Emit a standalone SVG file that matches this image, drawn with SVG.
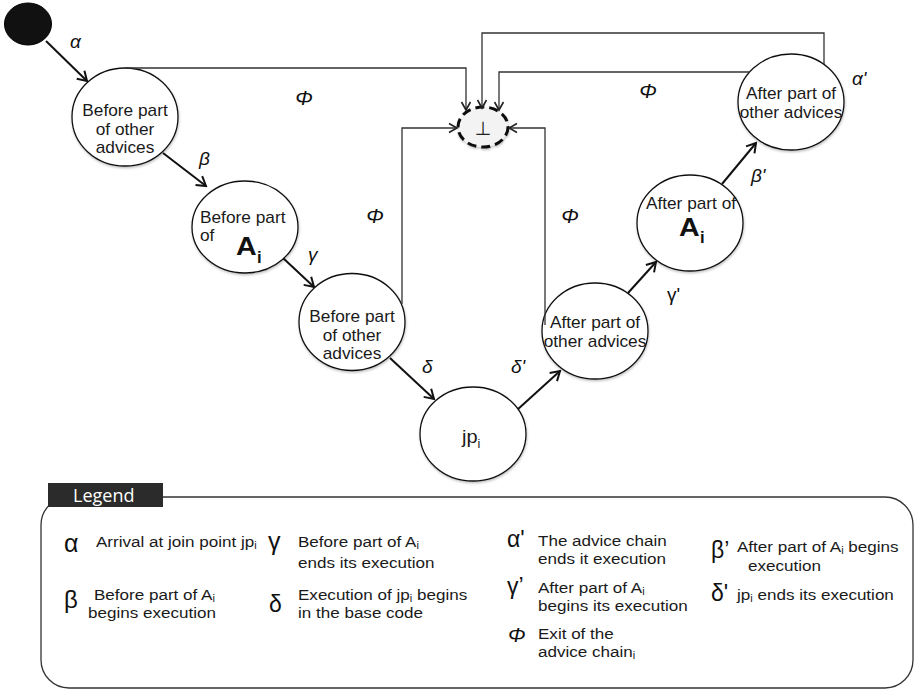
<svg xmlns="http://www.w3.org/2000/svg" width="919" height="690" viewBox="0 0 919 690">
<defs>
  <style>
    .node { fill: #ffffff; stroke: #111; stroke-width: 1.3; filter: url(#sh); }
    .nt { font-family: "Liberation Sans", Arial, sans-serif; font-size: 16px; fill: #1a1a1a; }
    .jpt { font-family: "Liberation Sans", Arial, sans-serif; font-size: 19px; fill: #1a1a1a; }
    .big { font-family: "Liberation Sans", Arial, sans-serif; font-weight: bold; fill: #111; }
    .lbl { font-family: "Liberation Sans", Arial, sans-serif; font-size: 19px; font-style: italic; fill: #111; }
    .phi { font-family: "Liberation Sans", Arial, sans-serif; font-size: 21px; font-style: italic; fill: #111; }
    .lblu { font-family: "Liberation Sans", Arial, sans-serif; font-size: 19px; fill: #111; }
    .lt { font-family: "Liberation Sans", Arial, sans-serif; font-size: 15.5px; fill: #1a1a1a; }
    .sym { font-family: "Liberation Sans", Arial, sans-serif; fill: #111; }
    .sub { font-size: 10px; }
    .arr { stroke: #111; stroke-width: 2; fill: none; marker-end: url(#ah); }
    .con { stroke: #333; stroke-width: 1.3; fill: none; marker-end: url(#ahs); }
  </style>
  <filter id="sh" x="-20%" y="-20%" width="140%" height="150%">
    <feDropShadow dx="0.5" dy="1.5" stdDeviation="1" flood-color="#000" flood-opacity="0.25"/>
  </filter>
  <marker id="ah" viewBox="-11 -7 13 14" refX="0" refY="0" markerWidth="13" markerHeight="14" markerUnits="userSpaceOnUse" orient="auto">
    <path d="M-9,-5.5 L0,0 L-9,5.5" fill="none" stroke="#111" stroke-width="2"/>
  </marker>
  <marker id="ahs" viewBox="-10 -6 12 12" refX="0" refY="0" markerWidth="12" markerHeight="12" markerUnits="userSpaceOnUse" orient="auto">
    <path d="M-8,-4.5 L0,0 L-8,4.5" fill="none" stroke="#222" stroke-width="1.6"/>
  </marker>
</defs>
<rect width="919" height="690" fill="#ffffff"/>

<!-- arrows (transitions) -->
<g id="transitions">
  <path class="arr" d="M46,41 L87,81"/>
  <path class="arr" d="M163,153 L206,186"/>
  <path class="arr" d="M283,258 L314,287"/>
  <path class="arr" d="M390,358 L434,399"/>
  <path class="arr" d="M517,410 L560,371"/>
  <path class="arr" d="M628,293 L656,262"/>
  <path class="arr" d="M722,184 L756,143"/>
</g>

<g id="start"><ellipse cx="28" cy="24" rx="23.5" ry="21" fill="#111" stroke="#000"/></g>

<g id="before-other-1">
  <ellipse class="node" cx="125" cy="117" rx="53" ry="49"/>
  <text class="nt" text-anchor="middle" transform="translate(125,116) scale(1.08,1)">Before part</text>
  <text class="nt" text-anchor="middle" transform="translate(125,134.5) scale(1.08,1)">of other</text>
  <text class="nt" text-anchor="middle" transform="translate(125,153) scale(1.08,1)">advices</text>
</g>

<g id="before-Ai">
  <ellipse class="node" cx="245" cy="227" rx="53" ry="46"/>
  <text class="nt" transform="translate(200,223) scale(1.08,1)">Before part</text>
  <text class="nt" transform="translate(200,241) scale(1.08,1)">of</text>
  <text class="big" font-size="26" transform="translate(236,255) scale(1.1,1)">A</text>
  <text class="big" font-size="16" transform="translate(257,263) scale(1.05,1)">i</text>
</g>

<g id="before-other-2">
  <ellipse class="node" cx="352" cy="322" rx="53" ry="48.5"/>
  <text class="nt" text-anchor="middle" transform="translate(352,322) scale(1.08,1)">Before part</text>
  <text class="nt" text-anchor="middle" transform="translate(352,340.5) scale(1.08,1)">of other</text>
  <text class="nt" text-anchor="middle" transform="translate(352,359) scale(1.08,1)">advices</text>
</g>

<g id="jp">
  <ellipse class="node" cx="473" cy="434" rx="53" ry="47"/>
  <text class="jpt" transform="translate(462,443) scale(1.05,1)">jp<tspan font-size="12" dy="5">i</tspan></text>
</g>

<g id="after-other-1">
  <ellipse class="node" cx="595" cy="331" rx="53" ry="48"/>
  <text class="nt" text-anchor="middle" transform="translate(595,328) scale(1.08,1)">After part of</text>
  <text class="nt" text-anchor="middle" transform="translate(595,347) scale(1.08,1)">other advices</text>
</g>

<g id="after-Ai">
  <ellipse class="node" cx="690" cy="223" rx="53" ry="48"/>
  <text class="nt" text-anchor="middle" transform="translate(691,209) scale(1.08,1)">After part of</text>
  <text class="big" font-size="26" transform="translate(679,236) scale(1.1,1)">A</text>
  <text class="big" font-size="16" transform="translate(700,243) scale(1.05,1)">i</text>
</g>

<g id="after-other-2">
  <ellipse class="node" cx="791" cy="102" rx="53" ry="48"/>
  <text class="nt" text-anchor="middle" transform="translate(791,99) scale(1.08,1)">After part of</text>
  <text class="nt" text-anchor="middle" transform="translate(791,117.5) scale(1.08,1)">other advices</text>
</g>

<g id="exit">
  <ellipse cx="483" cy="127" rx="25" ry="20" fill="#f3f3f3" stroke="#111" stroke-width="3" stroke-dasharray="9 5" filter="url(#sh)"/>
  <text x="483" y="135" text-anchor="middle" font-family="'DejaVu Sans', 'Noto Sans', sans-serif" font-size="19" fill="#222">⊥</text>
</g>

<!-- exit connectors -->
<g id="connectors">
  <path class="con" d="M125,68 H466 V110"/>
  <path class="con" d="M824,64 V33 H482 V108"/>
  <path class="con" d="M750,72 H499 V110"/>
  <path class="con" d="M402,304 V128 H457"/>
  <path class="con" d="M545,325 V128 H509"/>
</g>

<!-- labels -->
<g id="labels">
  <text class="lbl" x="70" y="48">α</text>
  <text class="lbl" x="199" y="165">β</text>
  <text class="lbl" x="308" y="261">γ</text>
  <text class="lbl" x="422" y="373">δ</text>
  <text class="lbl" x="511" y="373">δ'</text>
  <text class="lblu" x="667" y="301">γ'</text>
  <text class="lbl" x="751" y="182">β'</text>
  <text class="lbl" x="852" y="85">α'</text>
  <text class="phi" x="304" y="105" text-anchor="middle">Φ</text>
  <text class="phi" x="375" y="223" text-anchor="middle">Φ</text>
  <text class="phi" x="570" y="223" text-anchor="middle">Φ</text>
  <text class="phi" x="648" y="98" text-anchor="middle">Φ</text>
</g>

<!-- legend -->
<g id="legend">
  <rect x="41" y="497" width="872" height="191" rx="28" ry="28" fill="#fff" stroke="#333" stroke-width="1.3"/>
  <rect x="48" y="483" width="115" height="24" fill="#2b2b2b"/>
  <text x="73" y="502" font-family="'Open Sans', sans-serif" font-size="18" fill="#fff">Legend</text>

  <text class="sym" font-size="25" x="64" y="552">α</text>
  <text class="lt" transform="translate(96,547) scale(1.1,1)">Arrival at join point jp<tspan class="sub" dy="2">i</tspan></text>

  <text class="sym" font-size="25" x="268" y="550">γ</text>
  <text class="lt" transform="translate(298,547) scale(1.1,1)">Before part of A<tspan class="sub" dy="2">i</tspan></text>
  <text class="lt" transform="translate(298,568) scale(1.1,1)">ends its execution</text>

  <text class="sym" font-size="24" x="64" y="608">β</text>
  <text class="lt" transform="translate(94,600) scale(1.1,1)">Before part of A<tspan class="sub" dy="2">i</tspan></text>
  <text class="lt" transform="translate(88,618) scale(1.1,1)">begins execution</text>

  <text class="sym" font-size="23" x="269" y="612">δ</text>
  <text class="lt" transform="translate(298,600) scale(1.1,1)">Execution of jp<tspan class="sub" dy="2">i</tspan><tspan dy="-2"> begins</tspan></text>
  <text class="lt" transform="translate(298,618) scale(1.1,1)">in the base code</text>

  <text class="sym" font-size="23" x="507" y="547">α'</text>
  <text class="lt" transform="translate(538,546) scale(1.1,1)">The advice chain</text>
  <text class="lt" transform="translate(538,564) scale(1.1,1)">ends it execution</text>

  <text class="sym" font-size="23" x="507" y="594">γ’</text>
  <text class="lt" transform="translate(538,593) scale(1.1,1)">After part of A<tspan class="sub" dy="2">i</tspan></text>
  <text class="lt" transform="translate(538,611) scale(1.1,1)">begins its execution</text>

  <text class="sym" font-size="21" font-style="italic" x="508" y="642">Φ</text>
  <text class="lt" transform="translate(538,639) scale(1.1,1)">Exit of the</text>
  <text class="lt" transform="translate(538,657) scale(1.1,1)">advice chain<tspan class="sub" dy="2">i</tspan></text>

  <text class="sym" font-size="23" x="711" y="558">β’</text>
  <text class="lt" transform="translate(737,552) scale(1.1,1)">After part of A<tspan class="sub" dy="2">i</tspan><tspan dy="-2"> begins</tspan></text>
  <text class="lt" transform="translate(748,571) scale(1.1,1)">execution</text>

  <text class="sym" font-size="23" x="711" y="601">δ'</text>
  <text class="lt" transform="translate(737,600) scale(1.1,1)">jp<tspan class="sub" dy="2">i</tspan><tspan dy="-2"> ends its execution</tspan></text>
</g>
</svg>
